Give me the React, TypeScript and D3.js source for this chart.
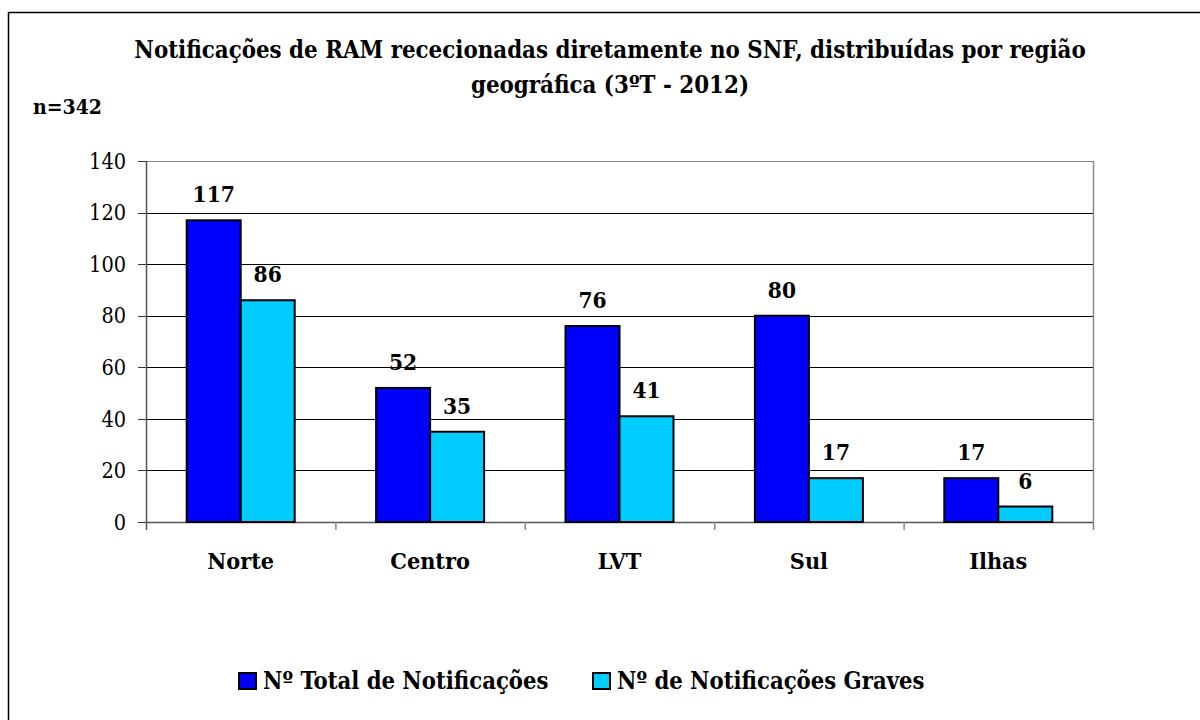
import React from 'react';
import * as d3 from 'd3';

const regions = ['Norte', 'Centro', 'LVT', 'Sul', 'Ilhas'];
const totals = [117, 52, 76, 80, 17];
const graves = [86, 35, 41, 17, 6];
const seriesNames = ['Nº Total de Notificações', 'Nº de Notificações Graves'];
const colors = ['#0000FF', '#00CCFF'];
const yTicks = [0, 20, 40, 60, 80, 100, 120, 140];

const font = "'DejaVu Serif Condensed', 'DejaVu Serif', serif";
const txt = { fontFamily: font, fontStretch: 'condensed' } as React.CSSProperties;
const W = 1200, H = 720;
const left = 146, right = 1093, top = 161, bottom = 522;

export default function App() {
  const x = d3.scaleBand<string>().domain(regions).range([left, right]);
  const y = d3.scaleLinear().domain([0, 140]).range([bottom, top]);
  const bw = 54;
  const series = [totals, graves];

  return (
    <svg width={W} height={H} style={{ position: 'absolute', left: 0, top: 0 }}>
      <rect x={8.5} y={12.5} width={W} height={H} fill="white" stroke="black" strokeWidth={1.5} />
      <text x={610} y={58} textAnchor="middle" style={txt} fontWeight="bold" fontSize={23.8}>
        Notificações de RAM rececionadas diretamente no SNF, distribuídas por região
      </text>
      <text x={610} y={93} textAnchor="middle" style={txt} fontWeight="bold" fontSize={23.8}>
        geográfica (3ºT - 2012)
      </text>
      <text x={33} y={114} style={txt} fontWeight="bold" fontSize={21}>n=342</text>

      {yTicks.map(t => (
        <g key={t}>
          <line x1={left} x2={right} y1={Math.round(y(t)) + 0.5} y2={Math.round(y(t)) + 0.5}
            stroke={t === 140 ? '#888' : '#000'} strokeWidth={1} />
          <line x1={left - 8} x2={left} y1={Math.round(y(t)) + 0.5} y2={Math.round(y(t)) + 0.5} stroke="#333" />
          <text x={126} y={y(t)} dy="0.36em" textAnchor="end" style={txt} fontSize={21.5}>{t}</text>
        </g>
      ))}
      <line x1={left + 0.5} x2={left + 0.5} y1={top} y2={bottom + 8} stroke="#555" strokeWidth={1.5} />
      <line x1={right + 0.5} x2={right + 0.5} y1={top} y2={bottom + 8} stroke="#888" strokeWidth={1.5} />
      <line x1={left} x2={right} y1={bottom + 0.5} y2={bottom + 0.5} stroke="#555" strokeWidth={1.5} />
      {regions.map((r, i) => i > 0 && (
        <line key={r} x1={x(r)! + 0.5} x2={x(r)! + 0.5} y1={bottom} y2={bottom + 8} stroke="#888" strokeWidth={1.5} />
      ))}

      {regions.map((r, i) => {
        const c = x(r)! + x.bandwidth() / 2;
        return (
          <g key={r}>
            {series.map((s, j) => {
              const bx = c - bw + j * bw;
              return (
                <g key={j}>
                  <rect x={bx} y={y(s[i])} width={bw} height={bottom - y(s[i])}
                    fill={colors[j]} stroke="black" strokeWidth={2} />
                  <text x={bx + bw / 2} y={y(s[i]) - 18} textAnchor="middle" style={txt}
                    fontWeight="bold" fontSize={22.5}>{s[i]}</text>
                </g>
              );
            })}
            <text x={c} y={569} textAnchor="middle" style={txt} fontWeight="bold" fontSize={23.2}>{r}</text>
          </g>
        );
      })}

      {seriesNames.map((n, j) => {
        const lx = j === 0 ? 239 : 593;
        return (
          <g key={n}>
            <rect x={lx} y={673} width={17} height={16} fill={colors[j]} stroke="black" strokeWidth={2} />
            <text x={lx + 24} y={689} style={txt} fontWeight="bold" fontSize={23.6}>{n}</text>
          </g>
        );
      })}
    </svg>
  );
}
